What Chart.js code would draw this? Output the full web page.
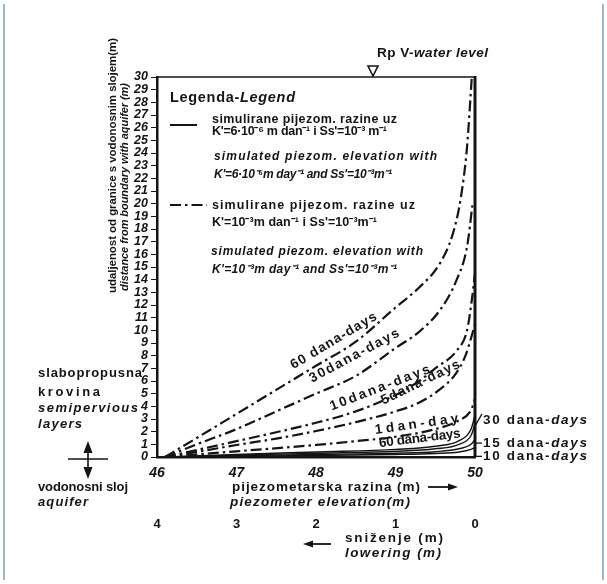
<!DOCTYPE html>
<html>
<head>
<meta charset="utf-8">
<script src="https://cdn.jsdelivr.net/npm/chart.js@4.4.1/dist/chart.umd.min.js"></script>
<style>
  html, body { margin: 0; padding: 0; background: #fff; }
  #wrap { width: 607px; height: 584px; }
</style>
</head>
<body>
<div id="wrap"><canvas id="c" width="607" height="584"></canvas></div>
<script>
// ---------- DATA ----------
// x axis: piezometer elevation (m); y axis: distance from boundary with aquifer (m)
const elevationRange = [46, 50];
const loweringRange = [0, 4];
const distanceRange = [0, 30];

// dash-dot curves: K' = 10^-3 m/day
const xDD60 = [46.1, 46.5, 47, 47.5, 48, 48.5, 49, 49.3, 49.55, 49.72, 49.82, 49.9, 49.96];
const yDD60 = [0, 1.5, 3.4, 5.3, 7.2, 9.1, 11.8, 13.4, 15.2, 17.6, 20.4, 24.5, 30];
const xDD30 = [46.1, 46.5, 47, 47.5, 48, 48.5, 49, 49.3, 49.56, 49.77, 49.9, 49.97];
const yDD30 = [0, 1.0, 2.2, 3.6, 5.0, 6.4, 8.6, 9.9, 11.6, 14.0, 16.6, 20];
const xDD10 = [46.1, 46.5, 47, 47.5, 48, 48.5, 49, 49.3, 49.5, 49.77, 49.9, 49.96, 50];
const yDD10 = [0, 0.55, 1.25, 1.95, 2.7, 3.6, 4.9, 6.0, 7.0, 8.4, 10.0, 12.4, 14.5];
const xDD5 = [46.1, 46.5, 47, 47.5, 48, 48.5, 49, 49.3, 49.55, 49.75, 49.88, 49.96, 50];
const yDD5 = [0, 0.4, 0.95, 1.45, 2.05, 2.75, 3.6, 4.3, 5.3, 6.5, 8.0, 9.6, 10.5];
const xDD1 = [46.1, 47, 48, 48.5, 49, 49.5, 49.8, 49.95, 50];
const yDD1 = [0, 0.45, 0.95, 1.25, 1.6, 2.2, 2.9, 3.7, 4.6];

// solid curves: K' = 6*10^-6 m/day
const xSolid = [46.1, 47, 48, 49, 49.5, 49.8, 49.95, 50];
const yS60 = [0, 0.2, 0.4, 0.6, 0.85, 1.3, 2.2, 3.3];
const yS30 = [0, 0.15, 0.3, 0.45, 0.65, 1.0, 1.7, 2.6];
const yS15 = [0, 0.1, 0.2, 0.3, 0.42, 0.65, 1.0, 1.4];
const yS10 = [0, 0.06, 0.12, 0.2, 0.28, 0.4, 0.6, 0.75];

const curveNames = ['60 dana-days', '30dana-days', '10dana-days', '5dana-days', '1dan-day', '60 dana-days', '30 dana-days', '15 dana-days', '10 dana-days'];

// ---------- helpers ----------
const pts = (xs, ys) => xs.map((x, i) => ({ x: x, y: ys[i] }));
const FAM = '"Liberation Sans", Arial, sans-serif';
const font = (size, italic) => (italic ? 'italic ' : '') + 'bold ' + size + 'px ' + FAM;

// draw list of [text, italic] segments, optionally spaced to a target width
function rich(ctx, segs, x, y, size, target, align) {
  ctx.save();
  if ('letterSpacing' in ctx) ctx.letterSpacing = '0px';
  let total = 0, n = 0;
  const widths = segs.map(s => { ctx.font = font(size, s[1]); const w = ctx.measureText(s[0]).width; total += w; n += s[0].length; return w; });
  let ls = 0;
  if (target && 'letterSpacing' in ctx) ls = Math.max(-0.8, (target - total) / Math.max(1, n - 1));
  let full = total + ls * n;
  let cx = x;
  if (align === 'center') cx = x - full / 2;
  if (align === 'right') cx = x - full;
  ctx.textAlign = 'left';
  ctx.textBaseline = 'middle';
  segs.forEach((s, i) => {
    ctx.font = font(size, s[1]);
    if ('letterSpacing' in ctx) ctx.letterSpacing = ls + 'px';
    ctx.fillText(s[0], cx, y);
    cx += widths[i] + ls * s[0].length;
  });
  ctx.restore();
}

function arrowHead(ctx, x, y, dir, len, half) {
  ctx.beginPath();
  if (dir === 'right') { ctx.moveTo(x, y); ctx.lineTo(x - len, y - half); ctx.lineTo(x - len, y + half); }
  if (dir === 'left') { ctx.moveTo(x, y); ctx.lineTo(x + len, y - half); ctx.lineTo(x + len, y + half); }
  if (dir === 'up') { ctx.moveTo(x, y); ctx.lineTo(x - half, y + len); ctx.lineTo(x + half, y + len); }
  if (dir === 'down') { ctx.moveTo(x, y); ctx.lineTo(x - half, y - len); ctx.lineTo(x + half, y - len); }
  ctx.closePath();
  ctx.fill();
}

const DASHDOT = [11, 4, 2.5, 4];
const INK = '#141414';

function dd(label, xs, ys) {
  return { label: label, data: pts(xs, ys), borderColor: INK, borderWidth: 2.2, borderDash: DASHDOT,
    pointRadius: 0, fill: false, cubicInterpolationMode: 'monotone' };
}
function solid(label, xs, ys) {
  return { label: label, data: pts(xs, ys), borderColor: INK, borderWidth: 1.4,
    pointRadius: 0, fill: false, cubicInterpolationMode: 'monotone' };
}

// labels placed along the curves (data coordinates)
const curveLabels = [
  { text: curveNames[0], x: 47.72, y: 6.9, angle: -31, len: 98 },
  { text: curveNames[1], x: 47.95, y: 5.85, angle: -28, len: 100 },
  { text: curveNames[2], x: 48.2, y: 3.65, angle: -21, len: 106 },
  { text: curveNames[3], x: 48.85, y: 4.1, angle: -26, len: 86 },
  { text: curveNames[4], x: 48.75, y: 1.8, angle: -8, len: 84 },
  { text: curveNames[5], x: 48.8, y: 0.75, angle: -7, len: 82 }
];

const decor = {
  id: 'decor',
  afterDraw(chart) {
    const ctx = chart.ctx;
    const a = chart.chartArea;
    const xs = chart.scales.x, ys = chart.scales.y;
    ctx.save();
    ctx.fillStyle = INK;
    ctx.strokeStyle = INK;

    // frame of the scan
    ctx.strokeStyle = '#7f9dc0';
    ctx.lineWidth = 1.5;
    ctx.beginPath();
    ctx.moveTo(4, 4); ctx.lineTo(4, 580);
    ctx.moveTo(603, 4); ctx.lineTo(603, 580);
    ctx.stroke();
    ctx.strokeStyle = INK;

    // top and right borders of plot
    ctx.lineWidth = 1.6;
    ctx.beginPath(); ctx.moveTo(a.left, a.top); ctx.lineTo(a.right, a.top); ctx.stroke();
    ctx.lineWidth = 3;
    ctx.beginPath(); ctx.moveTo(a.right, a.top - 1); ctx.lineTo(a.right, a.bottom); ctx.stroke();

    // water level marker
    ctx.lineWidth = 1.6;
    const tx = 373;
    ctx.beginPath(); ctx.moveTo(tx - 5, a.top - 11); ctx.lineTo(tx + 5, a.top - 11); ctx.lineTo(tx, a.top - 1); ctx.closePath(); ctx.stroke();
    rich(ctx, [['Rp V-', false], ['water level', true]], 377, 53, 13.5, 111);

    // legend
    rich(ctx, [['Legenda-', false], ['Legend', true]], a.left + 13, 98, 14.5, 125);
    ctx.lineWidth = 2;
    ctx.beginPath(); ctx.moveTo(a.left + 13, 125); ctx.lineTo(a.left + 40, 125); ctx.stroke();
    rich(ctx, [['simulirane pijezom. razine uz', false]], 212, 120, 12.5, 185);
    rich(ctx, [["K'=6·10⁻⁶ m dan⁻¹ i Ss'=10⁻³ m⁻¹", false]], 212, 132, 12.5, 175);
    rich(ctx, [['simulated piezom. elevation with', true]], 214, 157, 12, 223);
    rich(ctx, [["K'=6·10⁻⁶m day⁻¹ and Ss'=10⁻³m⁻¹", true]], 214, 175, 12, 178);
    ctx.save();
    ctx.setLineDash(DASHDOT);
    ctx.beginPath(); ctx.moveTo(a.left + 13, 205); ctx.lineTo(a.left + 50, 205); ctx.stroke();
    ctx.restore();
    rich(ctx, [['simulirane pijezom. razine uz', false]], 212, 206, 12.5, 203);
    rich(ctx, [["K'=10⁻³m dan⁻¹ i Ss'=10⁻³m⁻¹", false]], 212, 223, 12.5, 165);
    rich(ctx, [['simulated piezom. elevation with', true]], 211, 252, 12, 212);
    rich(ctx, [["K'=10⁻³m day⁻¹ and Ss'=10⁻³m⁻¹", true]], 212, 270, 12, 185);

    // y axis titles (rotated)
    ctx.save();
    ctx.translate(113, 293); ctx.rotate(-Math.PI / 2);
    rich(ctx, [['udaljenost od granice s vodonosnim slojem(m)', false]], 0, 0, 11.5, 255);
    ctx.restore();
    ctx.save();
    ctx.translate(125, 291); ctx.rotate(-Math.PI / 2);
    rich(ctx, [['distance from boundary with aquifer (m)', true]], 0, 0, 11, 208);
    ctx.restore();

    // left annotation: layers
    rich(ctx, [['slabopropusna', false]], 38, 373, 13, 104);
    rich(ctx, [['krovina', false]], 38, 392, 13, 62);
    rich(ctx, [['semipervious', true]], 38, 408, 13, 100);
    rich(ctx, [['layers', true]], 38, 424, 13, 44);
    rich(ctx, [['vodonosni sloj', false]], 38, 487, 13, 90);
    rich(ctx, [['aquifer', true]], 38, 502, 13, 50);
    ctx.lineWidth = 1.6;
    ctx.beginPath(); ctx.moveTo(88, 450); ctx.lineTo(88, 470); ctx.moveTo(68, 459); ctx.lineTo(108, 459); ctx.stroke();
    arrowHead(ctx, 88, 441, 'up', 12, 4.5);
    arrowHead(ctx, 88, 479, 'down', 12, 4.5);

    // x axis titles
    rich(ctx, [['pijezometarska razina (m)', false]], 232, 487, 13.5, 188);
    rich(ctx, [['piezometer elevation(m)', true]], 230, 502, 13.5, 180);
    ctx.lineWidth = 1.8;
    ctx.beginPath(); ctx.moveTo(428, 487); ctx.lineTo(450, 487); ctx.stroke();
    arrowHead(ctx, 458, 487, 'right', 10, 3.5);
    rich(ctx, [['sniženje (m)', false]], 345, 538, 13.5, 98);
    rich(ctx, [['lowering (m)', true]], 345, 553, 13.5, 96);
    ctx.beginPath(); ctx.moveTo(312, 544); ctx.lineTo(331, 544); ctx.stroke();
    arrowHead(ctx, 303, 544, 'left', 10, 3.5);

    // labels along curves
    curveLabels.forEach(l => {
      const px = xs.getPixelForValue(l.x), py = ys.getPixelForValue(l.y);
      ctx.save();
      ctx.translate(px, py);
      ctx.rotate(l.angle * Math.PI / 180);
      rich(ctx, [[l.text, false]], 0, -4, 13.5, l.len);
      ctx.restore();
    });

    // labels at the right edge for the solid curves
    const rx = a.right + 8;
    const right = [[curveNames[6], 2.3, 'slash'], [curveNames[7], 1.1, 'dash'], [curveNames[8], 0.05, 'dash']];
    right.forEach(r => {
      const py = ys.getPixelForValue(r[1]);
      const ty = r[2] === 'slash' ? py - 8 : py;
      const parts = r[0].split('-');
      rich(ctx, [[parts[0] + '-', false], [parts[1], true]], rx, ty, 13.5, 104);
      ctx.lineWidth = 1.3;
      ctx.beginPath();
      if (r[2] === 'slash') { ctx.moveTo(a.right - 1, py); ctx.lineTo(rx - 1, ty - 6); }
      else { ctx.moveTo(a.right - 1, py); ctx.lineTo(rx - 1, ty); }
      ctx.stroke();
    });

    ctx.restore();
  }
};

new Chart(document.getElementById('c'), {
  type: 'line',
  data: {
    datasets: [
      dd(curveNames[0], xDD60, yDD60),
      dd(curveNames[1], xDD30, yDD30),
      dd(curveNames[2], xDD10, yDD10),
      dd(curveNames[3], xDD5, yDD5),
      dd(curveNames[4], xDD1, yDD1),
      solid(curveNames[5], xSolid, yS60),
      solid(curveNames[6], xSolid, yS30),
      solid(curveNames[7], xSolid, yS15),
      solid(curveNames[8], xSolid, yS10)
    ]
  },
  options: {
    responsive: false,
    animation: false,
    layout: { padding: { left: 0, right: 132, top: 77, bottom: 0 } },
    plugins: { legend: { display: false }, tooltip: { enabled: false }, title: { display: false } },
    scales: {
      x: {
        type: 'linear', position: 'bottom', min: elevationRange[0], max: elevationRange[1],
        ticks: { stepSize: 1, color: INK, font: { family: FAM, size: 14, weight: 'bold', style: 'italic' }, padding: 8 },
        grid: { display: false, drawTicks: false },
        border: { display: true, color: INK, width: 2.5 },
        afterFit: s => { s.height = 50; }
      },
      x2: {
        type: 'linear', position: 'bottom', min: loweringRange[0], max: loweringRange[1], reverse: true,
        ticks: { stepSize: 1, color: INK, font: { family: FAM, size: 13, weight: 'bold' }, padding: 10 },
        grid: { display: false, drawTicks: false },
        border: { display: false },
        afterFit: s => { s.height = 77; }
      },
      y: {
        type: 'linear', min: distanceRange[0], max: distanceRange[1],
        ticks: { stepSize: 1, autoSkip: false, color: INK, font: { family: FAM, size: 12.5, weight: 'bold', style: 'italic' }, padding: 3 },
        grid: { drawOnChartArea: false, drawTicks: true, tickLength: 6, color: INK, lineWidth: 1 },
        border: { display: true, color: INK, width: 2.5 },
        afterFit: s => { s.width = 157; }
      }
    }
  },
  plugins: [decor]
});
</script>
</body>
</html>
